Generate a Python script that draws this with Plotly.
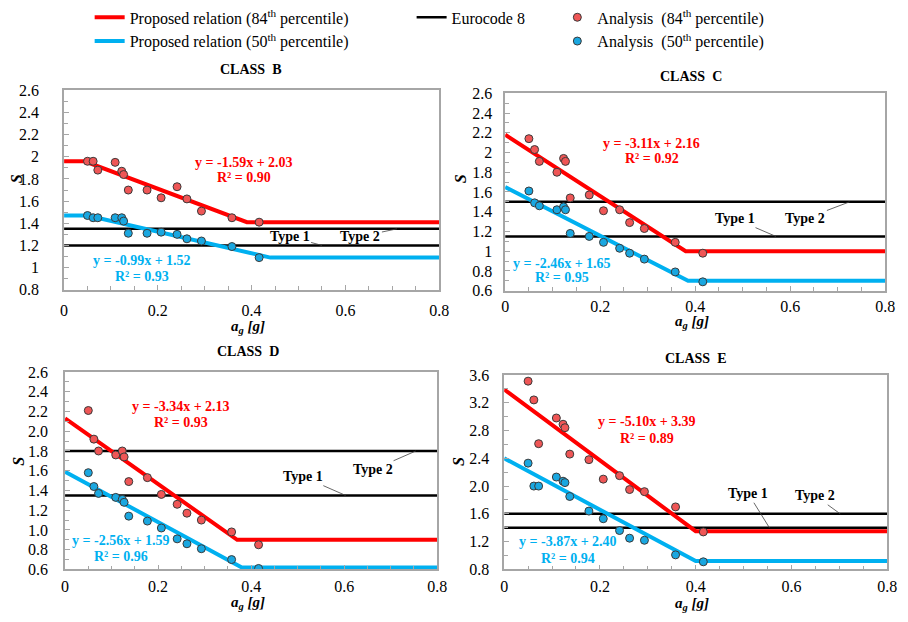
import plotly.graph_objects as go

W, H = 908, 622

# ---------------- data ----------------
classes = ["B", "C", "D", "E"]
ag = [0.050, 0.062, 0.072, 0.109, 0.123, 0.127, 0.137, 0.177, 0.207, 0.241, 0.262, 0.293, 0.358, 0.416]

S84 = {
    "B": [1.96, 1.96, 1.88, 1.95, 1.87, 1.84, 1.70, 1.70, 1.63, 1.73, 1.62, 1.51, 1.45, 1.41],
    "C": [2.14, 2.03, 1.91, 1.80, 1.94, 1.91, 1.54, 1.57, 1.41, 1.42, 1.29, 1.23, 1.09, 0.98],
    "D": [2.21, 1.92, 1.80, 1.76, 1.80, 1.74, 1.49, 1.53, 1.36, 1.26, 1.17, 1.10, 0.98, 0.85],
    "E": [3.51, 3.24, 2.61, 2.98, 2.89, 2.84, 2.46, 2.38, 2.10, 2.15, 1.95, 1.92, 1.70, 1.34],
}
S50 = {
    "B": [1.47, 1.45, 1.45, 1.45, 1.45, 1.42, 1.31, 1.31, 1.32, 1.30, 1.26, 1.24, 1.19, 1.09],
    "C": [1.61, 1.49, 1.46, 1.42, 1.45, 1.42, 1.18, 1.15, 1.09, 1.03, 0.98, 0.92, 0.79, 0.69],
    "D": [1.58, 1.44, 1.37, 1.33, 1.31, 1.28, 1.14, 1.09, 1.02, 0.91, 0.86, 0.81, 0.70, 0.61],
    "E": [2.33, 2.00, 2.00, 2.13, 2.07, 2.05, 1.85, 1.64, 1.53, 1.36, 1.25, 1.22, 1.01, 0.91],
}

# proposed relations (polyline vertices)
prop84_x = {"B": [0, 0.044, 0.39, 0.8], "C": [0, 0.38, 0.8], "D": [0, 0.37, 0.8], "E": [0, 0.40, 0.8]}
prop84_y = {"B": [1.96, 1.96, 1.41, 1.41], "C": [2.18, 1.00, 1.00], "D": [2.13, 0.90, 0.90], "E": [3.39, 1.35, 1.35]}
prop50_x = {"B": [0, 0.05, 0.44, 0.8], "C": [0, 0.385, 0.8], "D": [0, 0.38, 0.8], "E": [0, 0.40, 0.8]}
prop50_y = {"B": [1.47, 1.47, 1.09, 1.09], "C": [1.65, 0.70, 0.70], "D": [1.59, 0.62, 0.62], "E": [2.40, 0.92, 0.92]}

ec_x = [0, 0.8]
ec_type1 = {"B": 1.20, "C": 1.15, "D": 1.35, "E": 1.40}
ec_type2 = {"B": 1.35, "C": 1.50, "D": 1.80, "E": 1.60}

eq84 = {"B": "y = -1.59x + 2.03", "C": "y = -3.11x + 2.16", "D": "y = -3.34x + 2.13", "E": "y = -5.10x + 3.39"}
r2_84 = {"B": "R² = 0.90", "C": "R² = 0.92", "D": "R² = 0.93", "E": "R² = 0.89"}
eq50 = {"B": "y = -0.99x + 1.52", "C": "y = -2.46x + 1.65", "D": "y = -2.56x + 1.59", "E": "y = -3.87x + 2.40"}
r2_50 = {"B": "R² = 0.93", "C": "R² = 0.95", "D": "R² = 0.96", "E": "R² = 0.94"}

y_range = {"B": [0.8, 2.6], "C": [0.6, 2.6], "D": [0.6, 2.6], "E": [0.8, 3.6]}
y_dtick = {"B": 0.2, "C": 0.2, "D": 0.2, "E": 0.4}
y_minor = {"B": 0.1, "C": 0.1, "D": 0.1, "E": 0.2}
y_fmt = {"B": "", "C": "", "D": ".1f", "E": ".1f"}

# ---------------- layout (pixel boxes) ----------------
boxes = {  # left, right, top, bottom in px
    "B": (61, 442, 82, 288),
    "C": (509, 895, 85, 289),
    "D": (62, 440, 373, 577),
    "E": (508, 897, 376, 577),
}
ylab_gap = {"B": 20, "C": 8, "D": 12, "E": 10}
xlab_gap = {"B": 5, "C": 0, "D": 2, "E": 2}
eq_pos = {  # (x, y84, y84r2, x50, y50, y50r2) data coords
    "B": (0.383, 1.95, 1.81, 0.166, 1.06, 0.92),
    "C": (0.309, 2.09, 1.94, 0.12, 0.88, 0.73),
    "D": (0.249, 2.25, 2.09, 0.12, 0.89, 0.73),
    "E": (0.299, 2.93, 2.69, 0.134, 1.20, 0.96),
}
type_pos = {  # text1, tip1, text2, tip2
    "B": ((0.481, 1.28), (0.55, 1.20), (0.632, 1.28), (0.71, 1.35)),
    "C": ((0.483, 1.33), (0.57, 1.15), (0.632, 1.33), (0.725, 1.50)),
    "D": ((0.511, 1.54), (0.603, 1.35), (0.662, 1.61), (0.754, 1.80)),
    "E": ((0.51, 1.89), (0.554, 1.40), (0.65, 1.86), (0.702, 1.60)),
}
title_pos = {"B": (250, 60), "C": (698, 68), "D": (248, 352), "E": (702, 359)}
xt_pos = {"B": (248, 326), "C": (699, 321), "D": (248, 612), "E": (699, 613)}
yt_pos = {"B": (13, 173), "C": (464, 173), "D": (14, 465), "E": (461, 465)}

FONT = "Liberation Serif, Times New Roman, serif"
RED = "#FF0000"
BLUE = "#00B0F0"
RED_PT = "#EF5656"
BLUE_PT = "#1AA7E0"
GRID = "#A6A6A6"


def px(x):
    return x / W


def py(y):
    return 1 - y / H


fig = go.Figure()
annotations = []

for i, c in enumerate(classes):
    n = "" if i == 0 else str(i + 1)
    xa, ya = "x" + n, "y" + n
    first = i == 0
    # Eurocode lines
    fig.add_trace(go.Scatter(x=ec_x, y=[ec_type1[c]] * 2, mode="lines", line=dict(color="black", width=2.5),
                             name="Eurocode 8", legend="legend2", showlegend=first, xaxis=xa, yaxis=ya,
                             hoverinfo="skip"))
    fig.add_trace(go.Scatter(x=ec_x, y=[ec_type2[c]] * 2, mode="lines", line=dict(color="black", width=2.5),
                             showlegend=False, xaxis=xa, yaxis=ya, hoverinfo="skip"))
    # proposed relations
    fig.add_trace(go.Scatter(x=prop84_x[c], y=prop84_y[c], mode="lines", line=dict(color=RED, width=4),
                             name="Proposed relation (84<sup>th</sup> percentile)", legend="legend",
                             showlegend=first, xaxis=xa, yaxis=ya))
    fig.add_trace(go.Scatter(x=prop50_x[c], y=prop50_y[c], mode="lines", line=dict(color=BLUE, width=4),
                             name="Proposed relation (50<sup>th</sup> percentile)", legend="legend",
                             showlegend=first, xaxis=xa, yaxis=ya))
    # analysis points
    fig.add_trace(go.Scatter(x=ag, y=S84[c], mode="markers",
                             marker=dict(color=RED_PT, size=8, line=dict(color="#3A3A3A", width=1)),
                             name="Analysis  (84<sup>th</sup> percentile)", legend="legend3",
                             showlegend=first, xaxis=xa, yaxis=ya))
    fig.add_trace(go.Scatter(x=ag, y=S50[c], mode="markers",
                             marker=dict(color=BLUE_PT, size=8, line=dict(color="#3A3A3A", width=1)),
                             name="Analysis  (50<sup>th</sup> percentile)", legend="legend3",
                             showlegend=first, xaxis=xa, yaxis=ya))

    l, r, t, b = boxes[c]
    axis_common = dict(showline=True, mirror=True, linecolor=GRID, linewidth=1.5, showgrid=False,
                       zeroline=False, ticks="inside", ticklen=5, tickcolor=GRID,
                       tickfont=dict(family=FONT, size=16, color="black"))
    fig.layout["xaxis" + n] = dict(domain=[px(l), px(r)], anchor=ya, range=[0, 0.8], tick0=0, dtick=0.2,
                                   ticklabelstandoff=xlab_gap[c],
                                   minor=dict(dtick=0.05, ticks="inside", ticklen=4, tickcolor=GRID),
                                   **axis_common)
    fig.layout["yaxis" + n] = dict(domain=[py(b), py(t)], anchor=xa, range=y_range[c], tick0=y_range[c][0],
                                   dtick=y_dtick[c], tickformat=y_fmt[c], ticklabelstandoff=ylab_gap[c],
                                   minor=dict(dtick=y_minor[c], ticks="inside", ticklen=4, tickcolor=GRID),
                                   **axis_common)

    # equations
    ex, e1, e2, bx, b1, b2 = eq_pos[c]
    for txt, xx, yy, col in [(eq84[c], ex, e1, RED), (r2_84[c], ex, e2, RED),
                             (eq50[c], bx, b1, BLUE), (r2_50[c], bx, b2, BLUE)]:
        annotations.append(dict(x=xx, y=yy, xref=xa, yref=ya, text="<b>%s</b>" % txt, showarrow=False,
                                xanchor="center", yanchor="middle",
                                font=dict(family=FONT, size=14, color=col)))
    # type labels with leader lines
    t1, tip1, t2, tip2 = type_pos[c]
    for txt, tp, tip in [("Type 1", t1, tip1), ("Type 2", t2, tip2)]:
        annotations.append(dict(x=tip[0], y=tip[1], xref=xa, yref=ya, ax=tp[0], ay=tp[1], axref=xa, ayref=ya,
                                text="<b>%s</b>" % txt, showarrow=True, arrowhead=0, arrowwidth=0.8,
                                arrowcolor="#404040", standoff=0,
                                font=dict(family=FONT, size=14, color="black")))
    # title
    tx, ty = title_pos[c]
    annotations.append(dict(x=px(tx), y=py(ty), xref="paper", yref="paper", text="<b>CLASS  %s</b>" % c,
                            showarrow=False, xanchor="center", yanchor="middle",
                            font=dict(family=FONT, size=14, color="black")))
    # axis titles
    ax_, ay_ = xt_pos[c]
    annotations.append(dict(x=px(ax_), y=py(ay_), xref="paper", yref="paper",
                            text="<b><i>a<sub>g</sub> [g]</i></b>", showarrow=False,
                            xanchor="center", yanchor="middle",
                            font=dict(family=FONT, size=15, color="black")))
    sx, sy = yt_pos[c]
    annotations.append(dict(x=px(sx), y=py(sy), xref="paper", yref="paper", text="<b><i>S</i></b>",
                            showarrow=False, textangle=-90, xanchor="center", yanchor="middle",
                            font=dict(family=FONT, size=16, color="black")))

leg_common = dict(yanchor="top", xanchor="left", bgcolor="rgba(0,0,0,0)",
                  font=dict(family=FONT, size=16, color="black"), tracegroupgap=0, itemwidth=30)
fig.update_layout(
    width=W, height=H,
    margin=dict(l=0, r=0, t=0, b=0),
    paper_bgcolor="white", plot_bgcolor="white",
    annotations=annotations,
    legend=dict(x=px(87), y=1 + 11 / H, **leg_common),
    legend2=dict(x=px(414), y=1 + 11 / H, **leg_common),
    legend3=dict(x=px(562), y=1 + 11 / H, **leg_common),
)

fig.write_html("out.html")
